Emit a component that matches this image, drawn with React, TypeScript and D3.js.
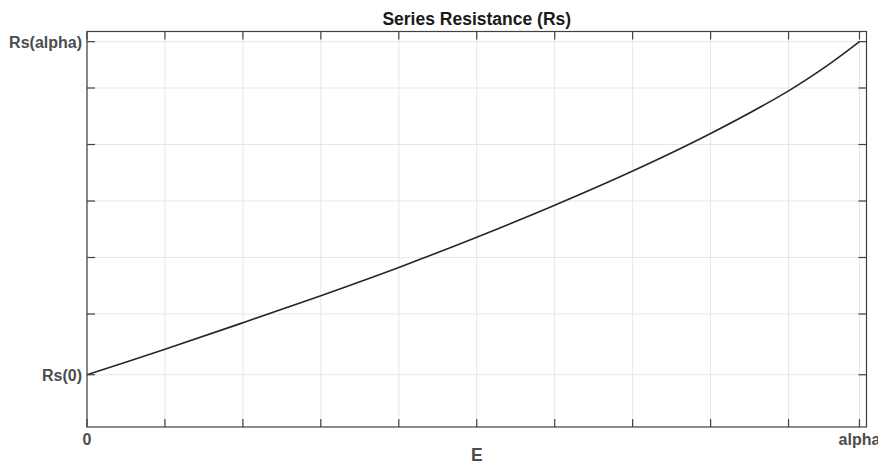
import * as d3 from "d3";

// E values where the curve was read (grid positions, alpha at the end)
const eValues = [0, 1, 2, 3, 4, 5, 6, 7, 8, 9, 9.5, 9.91];
const rsValues = [0.925, 1.375, 1.845, 2.325, 2.825, 3.36, 3.925, 4.53, 5.195, 5.95, 6.4, 6.82];

const xTicks = [0, 1, 2, 3, 4, 5, 6, 7, 8, 9, 9.91];
const xTickLabels = ["0", "", "", "", "", "", "", "", "", "", "alpha"];
const yTicks = [0.925, 2, 3, 4, 5, 6, 6.82];
const yTickLabels = ["Rs(0)", "", "", "", "", "", "Rs(alpha)"];

const title = "Series Resistance (Rs)";
const xLabel = "E";

const width = 878;
const height = 462;
const margin = { top: 31.5, right: 11.5, bottom: 35, left: 87 };
const font = "'Liberation Sans', Arial, Helvetica, sans-serif";

export default function App() {
  const innerW = width - margin.left - margin.right;
  const innerH = height - margin.top - margin.bottom;

  const x = d3.scaleLinear().domain([0, 10]).range([margin.left, margin.left + innerW]);
  const y = d3.scaleLinear().domain([0, 7]).range([margin.top + innerH, margin.top]);

  const line = d3
    .line<number>()
    .x((_, i) => x(eValues[i]))
    .y((d) => y(d))
    .curve(d3.curveCatmullRom.alpha(0.5));

  const x0 = x(0);
  const x1 = x(10);
  const y0 = y(0);
  const y1 = y(7);
  const tickLen = 8;
  const axisColor = "#404040";
  const labelColor = "#4d4d4d";

  return (
    <svg
      width={width}
      height={height}
      style={{ position: "absolute", left: 0, top: 0, background: "#fff" }}
    >
      {/* grid */}
      <g stroke="#e6e6e6" strokeWidth={1}>
        {xTicks.map((t, i) => (
          <line key={"gx" + i} x1={x(t)} x2={x(t)} y1={y1} y2={y0} />
        ))}
        {yTicks.map((t, i) => (
          <line key={"gy" + i} x1={x0} x2={x1} y1={y(t)} y2={y(t)} />
        ))}
      </g>

      {/* curve */}
      <path d={line(rsValues) ?? ""} fill="none" stroke="#262626" strokeWidth={1.6} />

      {/* box and ticks */}
      <g stroke={axisColor} strokeWidth={1.2} fill="none">
        <rect x={x0} y={y1} width={x1 - x0} height={y0 - y1} />
        {xTicks.map((t, i) => (
          <g key={"tx" + i}>
            <line x1={x(t)} x2={x(t)} y1={y0} y2={y0 - tickLen} />
            <line x1={x(t)} x2={x(t)} y1={y1} y2={y1 + tickLen} />
          </g>
        ))}
        {yTicks.map((t, i) => (
          <g key={"ty" + i}>
            <line x1={x0} x2={x0 + tickLen} y1={y(t)} y2={y(t)} />
            <line x1={x1} x2={x1 - tickLen} y1={y(t)} y2={y(t)} />
          </g>
        ))}
      </g>

      {/* tick labels */}
      <g fontFamily={font} fontWeight="bold" fontSize={16} fill={labelColor}>
        {xTicks.map((t, i) =>
          xTickLabels[i] ? (
            <text key={"lx" + i} x={x(t)} y={y0 + 18} textAnchor="middle">
              {xTickLabels[i]}
            </text>
          ) : null
        )}
        {yTicks.map((t, i) =>
          yTickLabels[i] ? (
            <text key={"ly" + i} x={x0 - 5} y={y(t) + 6} textAnchor="end">
              {yTickLabels[i]}
            </text>
          ) : null
        )}
      </g>

      {/* axis label and title */}
      <text
        x={(x0 + x1) / 2}
        y={460.5}
        textAnchor="middle"
        fontFamily={font}
        fontWeight="bold"
        fontSize={17.5}
        fill={labelColor}
      >
        {xLabel}
      </text>
      <text
        x={(x0 + x1) / 2}
        y={25}
        textAnchor="middle"
        fontFamily={font}
        fontWeight="bold"
        fontSize={17.5}
        fill="#1a1a1a"
      >
        {title}
      </text>
    </svg>
  );
}
